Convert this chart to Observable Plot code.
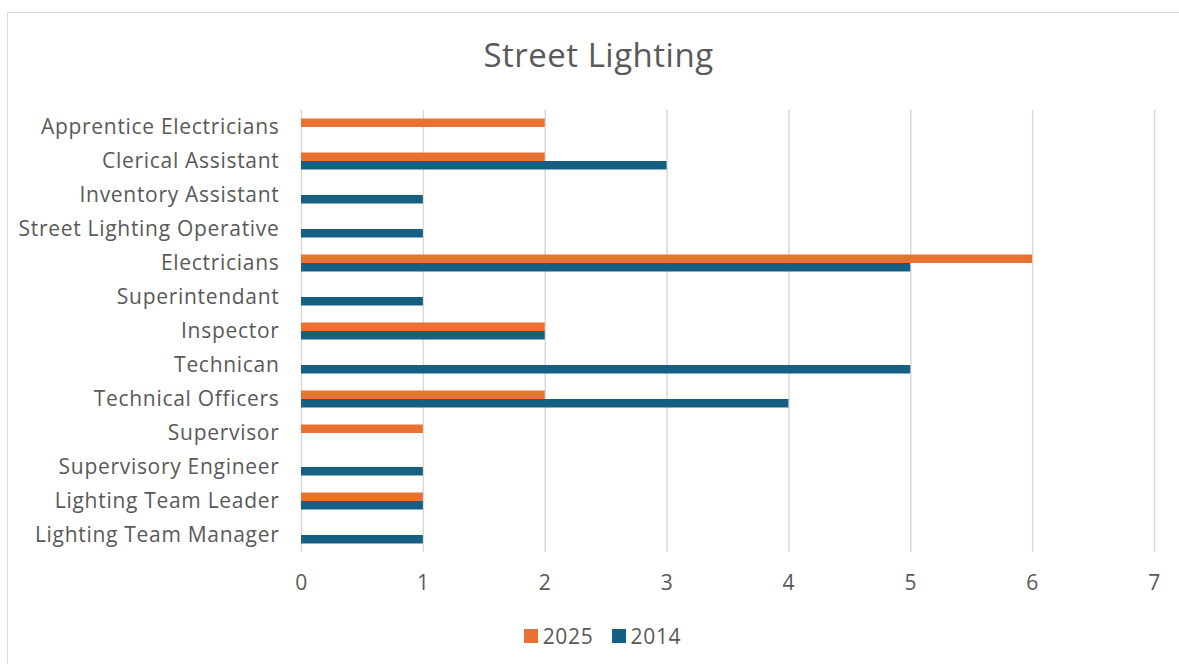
<!DOCTYPE html>
<html>
<head>
<meta charset="utf-8">
<script src="https://cdn.jsdelivr.net/npm/d3@7"></script>
<script src="https://cdn.jsdelivr.net/npm/@observablehq/plot@0.6"></script>
<style>
  html, body { margin: 0; padding: 0; background: #fff; }
  body { width: 1179px; height: 664px; position: relative; overflow: hidden; font-family: "Open Sans", Roboto, sans-serif; color: #595959; }
  #frame { position: absolute; left: 7px; top: 12px; width: 1200px; height: 700px; border: 1.5px solid #d9d9d9; box-sizing: border-box; }
  #title { position: absolute; left: 0; top: 35px; width: 1197px; text-align: center; font-size: 33px; line-height: 40px; letter-spacing: 0.5px; }
  #chart { position: absolute; left: 0; top: 90px; }
  #legend { position: absolute; left: 0; top: 622px; width: 1205px; display: flex; justify-content: center; gap: 18px; font-size: 21px; line-height: 28px; letter-spacing: 0.7px; }
  .item { display: flex; align-items: center; gap: 5px; }
  .sw { width: 14px; height: 14px; display: inline-block; }
</style>
</head>
<body>
<div id="frame"></div>
<div id="title">Street Lighting</div>
<div id="chart"></div>
<div id="legend"></div>
<script>
const categories = [
  "Apprentice Electricians",
  "Clerical Assistant",
  "Inventory Assistant",
  "Street Lighting Operative",
  "Electricians",
  "Superintendant",
  "Inspector",
  "Technican",
  "Technical Officers",
  "Supervisor",
  "Supervisory Engineer",
  "Lighting Team Leader",
  "Lighting Team Manager"
];
const values2025 = [2, 2, null, null, 6, null, 2, null, 2, 1, null, 1, null];
const values2014 = [null, 3, 1, 1, 5, 1, 2, 5, 4, null, 1, 1, 1];
const seriesNames = ["2025", "2014"];
const seriesColors = ["#E97132", "#156082"];
const xTicks = [0, 1, 2, 3, 4, 5, 6, 7];

const rows2025 = categories.map((c, i) => ({category: c, value: values2025[i]})).filter(d => d.value != null);
const rows2014 = categories.map((c, i) => ({category: c, value: values2014[i]})).filter(d => d.value != null);

const font = "'Open Sans', Roboto, sans-serif";
const chart = Plot.plot({
  width: 1179,
  height: 512,
  marginLeft: 301,
  marginRight: 25,
  marginTop: 20,
  marginBottom: 50,
  style: {fontFamily: font, color: "#595959", background: "transparent", letterSpacing: "0.7px"},
  x: {domain: [0, 7], label: null},
  y: {domain: categories, padding: 0, label: null},
  marks: [
    Plot.ruleX(xTicks, {stroke: "#d9d9d9", strokeWidth: 1.5, strokeOpacity: 1}),
    Plot.barX(rows2025, {x: "value", y: "category", fill: seriesColors[0], insetTop: 8.5, insetBottom: 17}),
    Plot.barX(rows2014, {x: "value", y: "category", fill: seriesColors[1], insetTop: 17, insetBottom: 8.5}),
    Plot.axisX({ticks: xTicks, tickFormat: d => String(d), tickSize: 0, tickPadding: 23, fontSize: 21, fill: "#595959", label: null}),
    Plot.axisY({tickSize: 0, tickPadding: 22, fontSize: 21, fill: "#595959", label: null})
  ]
});
document.getElementById("chart").appendChild(chart);

const legend = document.getElementById("legend");
seriesNames.forEach((s, i) => {
  const item = document.createElement("div");
  item.className = "item";
  const sw = document.createElement("span");
  sw.className = "sw";
  sw.style.background = seriesColors[i];
  const t = document.createElement("span");
  t.textContent = s;
  item.appendChild(sw);
  item.appendChild(t);
  legend.appendChild(item);
});
</script>
</body>
</html>
